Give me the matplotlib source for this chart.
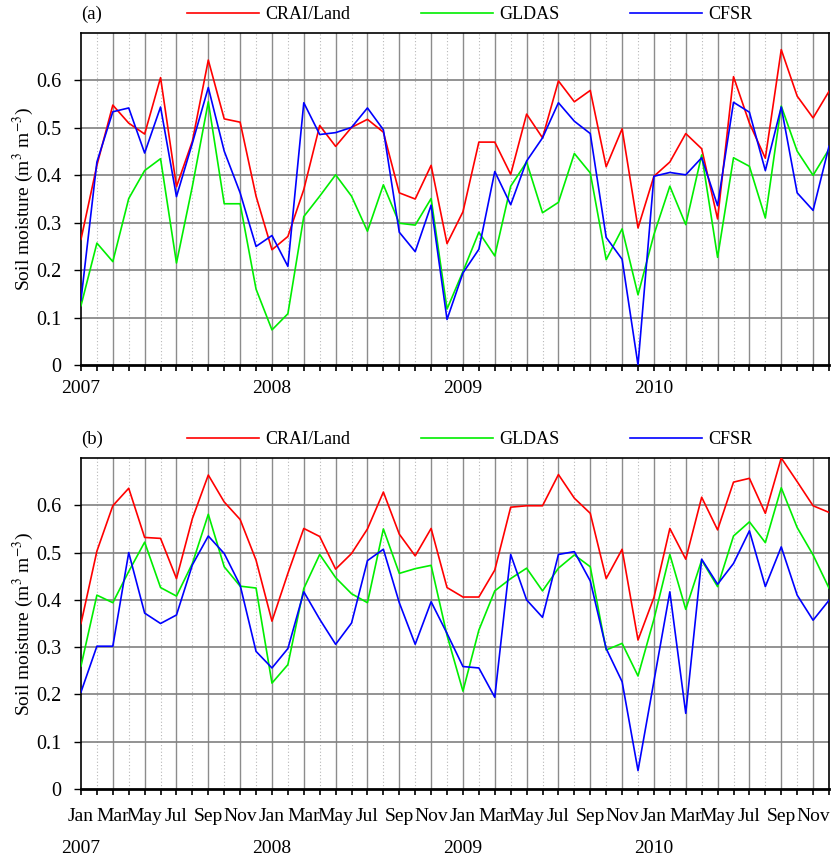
import numpy as np
import matplotlib
matplotlib.use("Agg")
import matplotlib.pyplot as plt
from matplotlib.ticker import FixedLocator, FixedFormatter

plt.rcParams['font.family'] = ['Liberation Serif', 'DejaVu Serif']
plt.rcParams['mathtext.fontset'] = 'stix'

# monthly soil moisture, Jan 2007 .. Dec 2010
years = ["2007", "2008", "2009", "2010"]
month_names = ["Jan", "Mar", "May", "Jul", "Sep", "Nov"]
series_names = ["CRAI/Land", "GLDAS", "CFSR"]
series_colors = ["#ff0000", "#00ee00", "#0000ff"]

# panel (a)
crai_a = [0.265, 0.421, 0.548, 0.510, 0.487, 0.606, 0.376, 0.472, 0.643, 0.519, 0.512, 0.356,
          0.243, 0.271, 0.370, 0.505, 0.461, 0.501, 0.518, 0.491, 0.363, 0.350, 0.421, 0.256,
          0.323, 0.470, 0.470, 0.402, 0.529, 0.479, 0.599, 0.555, 0.579, 0.418, 0.498, 0.289,
          0.398, 0.428, 0.488, 0.456, 0.308, 0.608, 0.510, 0.436, 0.665, 0.567, 0.521, 0.577]
gldas_a = [0.125, 0.257, 0.218, 0.351, 0.410, 0.435, 0.215, 0.377, 0.555, 0.340, 0.340, 0.160,
           0.074, 0.108, 0.313, 0.356, 0.401, 0.356, 0.282, 0.380, 0.299, 0.295, 0.351, 0.118,
           0.197, 0.280, 0.230, 0.377, 0.428, 0.321, 0.343, 0.446, 0.405, 0.222, 0.287, 0.148,
           0.275, 0.377, 0.296, 0.443, 0.227, 0.437, 0.419, 0.310, 0.546, 0.451, 0.400, 0.455]
cfsr_a = [0.137, 0.428, 0.534, 0.542, 0.447, 0.544, 0.355, 0.468, 0.585, 0.451, 0.363, 0.250,
          0.273, 0.208, 0.553, 0.486, 0.490, 0.501, 0.542, 0.496, 0.280, 0.239, 0.337, 0.096,
          0.194, 0.244, 0.408, 0.338, 0.430, 0.479, 0.553, 0.514, 0.488, 0.269, 0.223, 0.000,
          0.398, 0.406, 0.401, 0.437, 0.336, 0.554, 0.533, 0.410, 0.544, 0.363, 0.326, 0.461]

# panel (b)
crai_b = [0.350, 0.503, 0.599, 0.636, 0.532, 0.530, 0.445, 0.572, 0.664, 0.607, 0.570, 0.484,
          0.355, 0.456, 0.551, 0.534, 0.465, 0.498, 0.550, 0.628, 0.539, 0.493, 0.551, 0.426,
          0.406, 0.406, 0.463, 0.596, 0.599, 0.599, 0.665, 0.615, 0.583, 0.445, 0.507, 0.315,
          0.405, 0.551, 0.486, 0.617, 0.548, 0.649, 0.657, 0.583, 0.700, 0.650, 0.599, 0.585]
gldas_b = [0.260, 0.410, 0.394, 0.460, 0.522, 0.426, 0.408, 0.477, 0.581, 0.470, 0.429, 0.425,
           0.224, 0.263, 0.424, 0.496, 0.447, 0.413, 0.394, 0.550, 0.456, 0.466, 0.473, 0.325,
           0.207, 0.336, 0.419, 0.445, 0.467, 0.419, 0.467, 0.495, 0.470, 0.294, 0.308, 0.239,
           0.359, 0.496, 0.380, 0.484, 0.428, 0.535, 0.565, 0.521, 0.637, 0.553, 0.495, 0.425]
cfsr_b = [0.205, 0.302, 0.302, 0.500, 0.372, 0.350, 0.368, 0.474, 0.535, 0.498, 0.431, 0.291,
          0.256, 0.297, 0.417, 0.359, 0.306, 0.351, 0.483, 0.507, 0.394, 0.306, 0.396, 0.329,
          0.259, 0.256, 0.194, 0.496, 0.400, 0.363, 0.496, 0.502, 0.440, 0.297, 0.227, 0.039,
          0.228, 0.417, 0.160, 0.486, 0.433, 0.477, 0.546, 0.428, 0.512, 0.410, 0.357, 0.399]

n = len(crai_a)
x = np.arange(n)

fig = plt.figure(figsize=(8.34, 8.58), dpi=100)
ax_a = fig.add_axes([0.0971, 0.5746, 0.8969, 0.3869])
ax_b = fig.add_axes([0.0971, 0.0804, 0.8969, 0.3858])


def setup(ax, tag, monthly):
    ax.set_xlim(0, n - 1)
    ax.set_ylim(0, 0.7)
    odd = list(range(0, n, 2))
    even = list(range(1, n, 2))
    # solid lines at every other month, dotted in between
    for i in odd[1:]:
        ax.axvline(i, color="#8c8c8c", lw=1.0, zorder=1)
    for i in even:
        ax.axvline(i, color="#b8b8b8", lw=0.8, ls=(0, (1, 2)), zorder=1)
    for v in np.arange(0.1, 0.7, 0.1):
        ax.axhline(v, color="#808080", lw=1.2, zorder=1)

    ax.xaxis.set_major_locator(FixedLocator(odd))
    ax.xaxis.set_minor_locator(FixedLocator(even))
    if monthly:
        labels = [month_names[(i % 12) // 2] for i in odd]
        ax.xaxis.set_major_formatter(FixedFormatter(labels))
        for k, yr in enumerate(years):
            ax.text(12 * k, -0.18, yr, transform=ax.get_xaxis_transform(),
                    ha="center", va="center", fontsize=14)
        pad = 10
    else:
        labels = [years[i // 12] if i % 12 == 0 else "" for i in odd]
        ax.xaxis.set_major_formatter(FixedFormatter(labels))
        pad = 7
    ax.tick_params(axis="x", which="both", direction="out", length=4, width=1.2,
                   labelsize=14, pad=pad, top=False)
    ax.set_yticks(np.arange(0, 0.61, 0.1))
    ax.set_yticklabels(["0"] + ["%.1f" % v for v in np.arange(0.1, 0.61, 0.1)])
    ax.tick_params(axis="y", direction="out", length=5, width=1.0, labelsize=14.5, pad=9)
    for s in ["left", "right", "top"]:
        ax.spines[s].set_linewidth(1.2)
    ax.spines["bottom"].set_linewidth(2.0)
    ax.set_ylabel("Soil moisture (m$^{3}$ m$^{-3}$)", fontsize=14, labelpad=0)
    ax.text(0.0, 1.055, tag, transform=ax.transAxes, fontsize=13.5, ha="left", va="center")


for ax, tag, data, monthly in [(ax_a, "(a)", [crai_a, gldas_a, cfsr_a], False),
                               (ax_b, "(b)", [crai_b, gldas_b, cfsr_b], True)]:
    setup(ax, tag, monthly)
    for vals, name, col in zip(data, series_names, series_colors):
        ax.plot(x, vals, color=col, lw=1.2, label=name, zorder=3)
    ax.legend(loc="center", bbox_to_anchor=(0.52, 1.055), ncol=3, frameon=False,
              fontsize=13, handlelength=4.0, handletextpad=0.35, columnspacing=3.9,
              borderaxespad=0)

fig.savefig("out.png", dpi=100)
